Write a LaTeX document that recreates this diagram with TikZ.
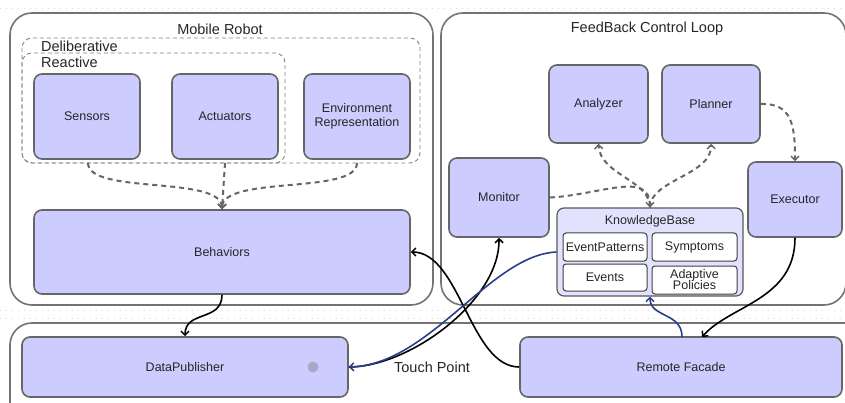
\documentclass[tikz,border=0pt]{standalone}
\usepackage{fontspec}
\setmainfont{Liberation Sans}
\usetikzlibrary{arrows.meta}
\definecolor{lav}{HTML}{CCCCFF}
\definecolor{lavlight}{HTML}{E2E2FF}
\definecolor{bord}{HTML}{666666}
\definecolor{navy}{HTML}{2B3E8C}
\definecolor{dotc}{HTML}{A9A6C8}
\tikzset{
  box/.style={draw=bord, fill=lav, line width=1.6pt, rounded corners=8pt, align=center,
    font=\fontsize{12.5}{13.5}\selectfont, text=black!85, inner sep=2pt},
  inbox/.style={draw=black!75, fill=white, line width=1pt, rounded corners=3pt, align=center,
    font=\fontsize{12.5}{13}\selectfont, text=black!85, inner sep=1pt},
  container/.style={draw=black!55, line width=1.6pt, rounded corners=22pt},
  group/.style={draw=black!50, line width=0.9pt, dash pattern=on 4pt off 3pt, rounded corners=10pt},
  title/.style={font=\fontsize{14.5}{16}\selectfont, text=black!85, inner sep=0pt},
  dasharrow/.style={draw=black!60, line width=2pt, dash pattern=on 5pt off 4pt,
    -{Straight Barb[length=4pt,width=8pt,line width=1.5pt]}},
  flow/.style={draw=black, line width=1.6pt, -{Straight Barb[length=4pt,width=8pt,line width=1.5pt]}},
  blueflow/.style={draw=navy, line width=1.6pt, -{Straight Barb[length=4pt,width=8pt,line width=1.5pt]}},
}
\begin{document}
\begin{tikzpicture}[x=1pt,y=-1pt]
\useasboundingbox (0,0) rectangle (845,403);
\clip (0,0) rectangle (845,403);
\fill[white] (0,0) rectangle (845,403);
% faint background dots
\foreach \yy in {8,310,318} \draw[black!15, line width=0.5pt, dash pattern=on 1pt off 5pt] (0,\yy) -- (845,\yy);
% containers
\draw[container] (10,13) rectangle (433,305);
\node[title] (mrt) at (220,29) {Mobile Robot};
\draw[container] (441,13) rectangle (846,305);
\node[title] (fbt) at (647,29) {FeedBack Control Loop};
\draw[container] (10,323) rectangle (870,430);
\node[title] (tpt) at (432,367) {Touch Point};
% groups
\draw[group] (22,38) rectangle (420,163);
\node[title, anchor=west] (delib) at (41,46) {Deliberative};
\draw[group] (22,53) rectangle (285,163);
\node[title, anchor=west] (react) at (41,62) {Reactive};
% robot nodes
\node[box, minimum width=106pt, minimum height=85pt] (sensors) at (87,116.5) {Sensors};
\node[box, minimum width=106pt, minimum height=85pt] (actuators) at (225,116.5) {Actuators};
\node[box, minimum width=106pt, minimum height=85pt] (env) at (357,116.5) {Environment\\Representation};
\node[box, minimum width=376pt, minimum height=84pt] (behaviors) at (222,252) {Behaviors};
% feedback nodes
\node[box, minimum width=99pt, minimum height=78pt] (analyzer) at (598.5,104) {Analyzer};
\node[box, minimum width=98pt, minimum height=78pt] (planner) at (711,104) {Planner};
\node[box, minimum width=100pt, minimum height=79pt] (monitor) at (499,197.5) {Monitor};
\node[box, minimum width=94pt, minimum height=75pt] (executor) at (795,199.5) {Executor};
% knowledge base
\node[draw=black!65, fill=lavlight, line width=1.2pt, rounded corners=7pt, minimum width=186pt, minimum height=88pt] (kb) at (650,252) {};
\node[font=\fontsize{12.5}{13}\selectfont, text=black!85, inner sep=0pt] (kbt) at (650,221) {KnowledgeBase};
\node[inbox, minimum width=84pt, minimum height=28pt] (evp) at (605,247) {EventPatterns};
\node[inbox, minimum width=85pt, minimum height=28pt] (sym) at (694.5,247) {Symptoms};
\node[inbox, minimum width=84pt, minimum height=27pt] (evs) at (605,277.5) {Events};
\node[inbox, minimum width=85pt, minimum height=28pt] (pol) at (694.5,280) {Adaptive\\[-2pt]Policies};
% touch point nodes
\node[box, minimum width=326pt, minimum height=60pt] (dp) at (185,367) {DataPublisher};
\fill[dotc] (313,367) circle (5.5pt);
\node[box, minimum width=322pt, minimum height=60pt] (rf) at (681,367) {Remote Facade};
% dashed connectors in robot
\coordinate (sb) at (88,163);
\coordinate (ab) at (225,163);
\coordinate (eb) at (357,163);
\draw[dasharrow] (sb) .. controls (88,195) and (222,175) .. (behaviors.north);
\draw[dasharrow] (ab) -- (behaviors.north);
\draw[dasharrow] (eb) .. controls (357,195) and (222,175) .. (behaviors.north);
% dashed connectors in loop
\draw[dasharrow] (monitor.east) .. controls (600,195) and (650,170) .. (kb.north);
\draw[dasharrow] (kb.north) .. controls (650,180) and (600,175) .. (analyzer.south);
\draw[dasharrow] (kb.north) .. controls (650,180) and (712,175) .. (planner.south);
\draw[dasharrow] (planner.east) .. controls (792,103) and (795,125) .. (executor.north);
% solid connectors
\draw[flow] (behaviors.south) .. controls (222,322) and (185,310) .. (dp.north);
\draw[flow] (rf.west) .. controls (470,367) and (460,252) .. (behaviors.east);
\draw[flow] (dp.east) .. controls (410,367) and (500,300) .. (monitor.south);
\draw[blueflow] (kb.west) .. controls (490,255) and (430,365) .. (dp.east);
\draw[blueflow] (682,337) .. controls (682,312) and (650,318) .. (kb.south);
\draw[flow] (executor.south) .. controls (795,300) and (730,305) .. (702,337);
\end{tikzpicture}
\end{document}
